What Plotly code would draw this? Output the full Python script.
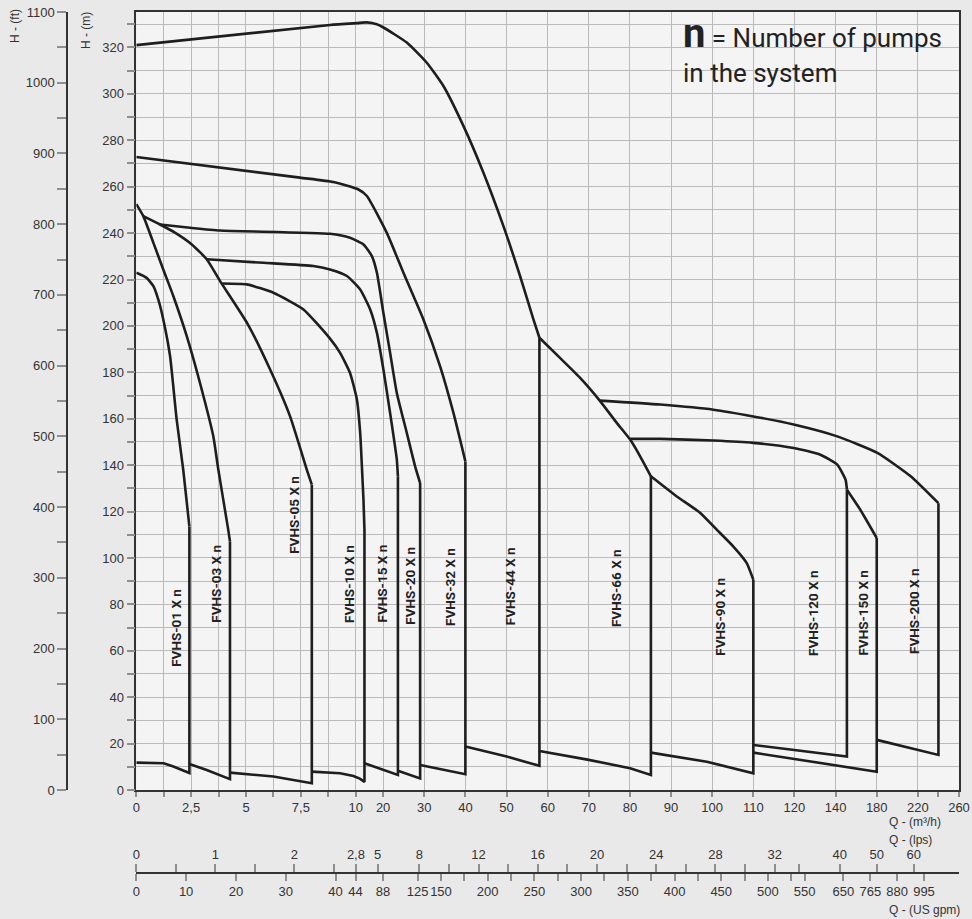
import numpy as np
import plotly.graph_objects as go

# ---------------- axis scale of the original (piecewise m3/h scale) ----------------
Q_ANCH = [0, 10, 20, 120, 140, 260]
U_ANCH = [0, 8, 9, 24, 25.5, 30]


def qpos(q):
    return np.interp(np.asarray(q, dtype=float), Q_ANCH, U_ANCH)


# ---------------- tick labels ----------------
X_TICKS = [0, 1.25, 2.5, 3.75, 5, 6.25, 7.5, 8.75, 10, 20, 30, 40, 50, 60, 70, 80, 90,
           100, 110, 120, 140, 180, 220, 260]
X_TICK_TEXT = ["0", "", "2,5", "", "5", "", "7,5", "", "10", "20", "30", "40", "50", "60",
               "70", "80", "90", "100", "110", "120", "140", "180", "220", "260"]
X_MINOR = [240]

LPS_TICKS = [0, 0.5, 1, 1.5, 2, 2.5, 2.8, 5, 8, 10, 12, 14, 16, 18, 20, 22, 24, 26, 28,
             30, 32, 34, 40, 50, 60]
LPS_TEXT = ["0", "", "1", "", "2", "", "2,8", "5", "8", "", "12", "", "16", "", "20", "",
            "24", "", "28", "", "32", "", "40", "50", "60"]
LPS_TO_M3H = 3.6

GPM_TICKS = [0, 10, 20, 30, 40, 44, 88, 125, 150, 175, 200, 225, 250, 275, 300, 325, 350,
             375, 400, 425, 450, 475, 500, 525, 550, 650, 765, 880, 995]
GPM_TEXT = ["0", "10", "20", "30", "40", "44", "88", "125", "150", "", "200", "", "250", "",
            "300", "", "350", "", "400", "", "450", "", "500", "", "550", "650", "765", "880", "995"]
GPM_TO_M3H = 0.2271

H_MAX_FT = 1100
FT_TO_M = 0.3048

# ---------------- pump family curves (Q in m3/h, H in m) ----------------
FVHS01_TOP_Q = [0, 0.47, 0.78, 1.0, 1.23, 1.54, 1.84, 2.14, 2.42]
FVHS01_TOP_H = [222.9, 220.7, 217.1, 211.4, 202.8, 186.9, 159.6, 138.0, 113.5]
FVHS01_BOT_Q = [0, 1.25, 1.69, 2.42]
FVHS01_BOT_H = [11.8, 11.5, 10.1, 7.3]

FVHS03_TOP_Q = [0, 0.32, 0.78, 1.23, 1.69, 2.30, 2.90, 3.51, 3.74, 4.19, 4.27]
FVHS03_TOP_H = [252.5, 247.3, 235.8, 224.3, 212.8, 195.6, 175.5, 152.4, 138.0, 112.2, 107.1]
FVHS03_BOT_Q = [2.42, 3.21, 4.27]
FVHS03_BOT_H = [11.2, 8.6, 4.7]

FVHS05_TOP_Q = [0.32, 1.08, 1.76, 2.53, 3.21, 3.82, 5.09, 6.10, 7.01, 7.77, 8.0]
FVHS05_TOP_H = [247.3, 243.7, 240.2, 235.1, 228.7, 219.3, 200.6, 181.2, 161.0, 138.1, 131.6]
FVHS05_BOT_Q = [4.27, 6.25, 8.0]
FVHS05_BOT_H = [7.5, 5.8, 2.9]

FVHS10_TOP_Q = [3.92, 5.03, 6.25, 7.62, 8.83, 9.29, 9.74, 10.44, 11.64, 12.26, 12.84, 13.2]
FVHS10_TOP_H = [218.3, 217.9, 214.3, 207.1, 194.5, 188.4, 179.8, 168.3, 153.9, 139.5, 125.1, 112.0]
FVHS10_BOT_Q = [8.0, 8.83, 9.29, 9.9, 11.5, 13.2]
FVHS10_BOT_H = [7.9, 7.4, 7.2, 6.0, 4.9, 3.5]

FVHS15_TOP_Q = [3.21, 5.79, 8.07, 8.83, 9.60, 11.64, 15.29, 17.74, 20.07, 21.70, 23.33, 23.6]
FVHS15_TOP_H = [228.7, 227.2, 225.8, 224.3, 221.5, 215.7, 207.1, 197.0, 181.2, 162.5, 142.4, 135.2]
FVHS15_BOT_Q = [13.2, 23.6]
FVHS15_BOT_H = [11.5, 6.5]

FVHS20_TOP_Q = [1.08, 2.45, 3.82, 8.83, 9.74, 12.84, 15.91, 17.74, 20.07, 21.70, 23.33, 25.76, 27.78, 29.0]
FVHS20_TOP_H = [243.7, 242.3, 241.1, 239.7, 238.0, 235.1, 230.1, 222.9, 205.6, 188.4, 171.1, 153.9, 139.5, 132.3]
FVHS20_BOT_Q = [23.6, 29.0]
FVHS20_BOT_H = [8.3, 5.0]

FVHS32_TOP_Q = [0, 7.46, 8.98, 11.02, 14.08, 20.90, 24.94, 29.80, 33.86, 37.10, 40.0]
FVHS32_TOP_H = [272.8, 263.9, 262.0, 258.8, 256.0, 240.1, 222.9, 202.8, 182.6, 162.5, 141.6]
FVHS32_BOT_Q = [29.0, 40.0]
FVHS32_BOT_H = [10.8, 6.8]

FVHS44_TOP_Q = [0, 8.83, 10.44, 14.08, 17.7, 20.07, 25.76, 30.62, 34.66, 39.52, 44.39, 49.25, 53.31, 56.54, 58.0]
FVHS44_TOP_H = [321.0, 329.7, 330.5, 330.8, 330.0, 328.6, 322.1, 313.4, 303.4, 286.2, 266.0, 243.0, 221.4, 202.8, 194.9]
FVHS44_BOT_Q = [40.0, 50.05, 58.0]
FVHS44_BOT_H = [18.7, 14.4, 10.4]

FVHS66_TOP_Q = [58.0, 63.0, 67.9, 72.76, 76.8, 80.05, 82.48, 85.1]
FVHS66_TOP_H = [194.9, 186.2, 177.6, 167.6, 158.2, 151.0, 143.8, 135.2]
FVHS66_BOT_Q = [58.0, 69.36, 80.04, 85.1]
FVHS66_BOT_H = [16.8, 13.2, 9.4, 6.5]

FVHS90_TOP_Q = [85.1, 91.4, 97.1, 101.1, 105.1, 108.4, 110.0]
FVHS90_TOP_H = [135.2, 126.5, 119.4, 112.2, 105.0, 97.8, 90.6]
FVHS90_BOT_Q = [85.1, 98.7, 110.0]
FVHS90_BOT_H = [16.1, 12.2, 7.2]

FVHS120_TOP_Q = [80.05, 87.35, 100.3, 110.0, 119.8, 132.6, 141.6, 149.7, 151.0]
FVHS120_TOP_H = [151.3, 151.3, 150.6, 149.6, 147.4, 144.5, 140.2, 133.7, 129.4]
FVHS120_BOT_Q = [110.0, 151.0]
FVHS120_BOT_H = [19.4, 14.4]

FVHS150_TOP_Q = [151.0, 164.0, 180.0]
FVHS150_TOP_H = [129.4, 120.8, 108.6]
FVHS150_BOT_Q = [110.0, 180.0]
FVHS150_BOT_H = [16.1, 7.9]

FVHS200_TOP_Q = [72.76, 87.35, 100.3, 110.0, 119.8, 141.6, 180.6, 213.0, 240.0]
FVHS200_TOP_H = [167.8, 166.1, 163.9, 161.0, 157.5, 152.4, 145.3, 135.2, 123.6]
FVHS200_BOT_Q = [180.0, 240.0]
FVHS200_BOT_H = [21.6, 15.1]

FAMILIES = [
    ("FVHS-01 X n", FVHS01_TOP_Q, FVHS01_TOP_H, FVHS01_BOT_Q, FVHS01_BOT_H),
    ("FVHS-03 X n", FVHS03_TOP_Q, FVHS03_TOP_H, FVHS03_BOT_Q, FVHS03_BOT_H),
    ("FVHS-05 X n", FVHS05_TOP_Q, FVHS05_TOP_H, FVHS05_BOT_Q, FVHS05_BOT_H),
    ("FVHS-10 X n", FVHS10_TOP_Q, FVHS10_TOP_H, FVHS10_BOT_Q, FVHS10_BOT_H),
    ("FVHS-15 X n", FVHS15_TOP_Q, FVHS15_TOP_H, FVHS15_BOT_Q, FVHS15_BOT_H),
    ("FVHS-20 X n", FVHS20_TOP_Q, FVHS20_TOP_H, FVHS20_BOT_Q, FVHS20_BOT_H),
    ("FVHS-32 X n", FVHS32_TOP_Q, FVHS32_TOP_H, FVHS32_BOT_Q, FVHS32_BOT_H),
    ("FVHS-44 X n", FVHS44_TOP_Q, FVHS44_TOP_H, FVHS44_BOT_Q, FVHS44_BOT_H),
    ("FVHS-66 X n", FVHS66_TOP_Q, FVHS66_TOP_H, FVHS66_BOT_Q, FVHS66_BOT_H),
    ("FVHS-90 X n", FVHS90_TOP_Q, FVHS90_TOP_H, FVHS90_BOT_Q, FVHS90_BOT_H),
    ("FVHS-120 X n", FVHS120_TOP_Q, FVHS120_TOP_H, FVHS120_BOT_Q, FVHS120_BOT_H),
    ("FVHS-150 X n", FVHS150_TOP_Q, FVHS150_TOP_H, FVHS150_BOT_Q, FVHS150_BOT_H),
    ("FVHS-200 X n", FVHS200_TOP_Q, FVHS200_TOP_H, FVHS200_BOT_Q, FVHS200_BOT_H),
]

# label anchor points (Q m3/h, H m)
LABEL_Q = [1.81, 3.63, 7.19, 9.66, 19.5, 26.5, 36.3, 50.7, 76.6, 101.9, 128.9, 167.0, 215.7]
LABEL_H = [69.9, 88.9, 118.6, 88.9, 88.9, 88.0, 87.6, 88.0, 87.0, 74.7, 76.2, 76.2, 76.9]

# ---------------- styling / page geometry ----------------
PAGE_BG = "#e9e9e9"
PLOT_BG = "#f4f4f4"
GRID = "#bababa"
AXIS = "#333333"
TICKC = "#8e8e8e"
CURVE = "#1e1e1e"
TICK_FONT = dict(family="Liberation Sans, Arial, sans-serif", size=13, color="#333333")

W, Hh = 972, 919
ML, MR, MT, MB = 67, 13, 12, 46
PW = W - ML - MR
PH = Hh - MT - MB
PLOT_LEFT_PX = 136.3
PLOT_BOTTOM_PX = 790
X_DOM0 = (PLOT_LEFT_PX - ML) / PW
Y_DOM0 = (Hh - MB - PLOT_BOTTOM_PX) / PH
H_MAX_M = H_MAX_FT * FT_TO_M


def sx(px):
    return (px - ML) / PW


def sy(py):
    return (Hh - MB - py) / PH


fig = go.Figure()

for name, tq, th, bq, bh in FAMILIES:
    fig.add_trace(go.Scatter(x=qpos(tq), y=th, mode="lines",
                             line=dict(color=CURVE, width=2.6, shape="spline", smoothing=0.5),
                             showlegend=False, hoverinfo="skip"))
    vx = [tq[-1]] + list(bq[::-1])
    vy = [th[-1]] + list(bh[::-1])
    fig.add_trace(go.Scatter(x=qpos(vx), y=vy, mode="lines",
                             line=dict(color=CURVE, width=2.6),
                             showlegend=False, hoverinfo="skip"))

# invisible helpers so the extra axes are drawn
fig.add_trace(go.Scatter(x=[0], y=[0], xaxis="x2", yaxis="y", mode="markers",
                         marker=dict(opacity=0), showlegend=False, hoverinfo="skip"))
fig.add_trace(go.Scatter(x=[0], y=[0], xaxis="x3", yaxis="y", mode="markers",
                         marker=dict(opacity=0), showlegend=False, hoverinfo="skip"))
fig.add_trace(go.Scatter(x=[0], y=[0], xaxis="x", yaxis="y2", mode="markers",
                         marker=dict(opacity=0), showlegend=False, hoverinfo="skip"))

annotations = []
for (name, *_), lq, lh in zip(FAMILIES, LABEL_Q, LABEL_H):
    annotations.append(dict(x=float(qpos(lq)), y=lh, xref="x", yref="y", text="<b>%s</b>" % name,
                            textangle=-90, showarrow=False,
                            font=dict(family="Roboto, sans-serif", size=13.5, color="#222222")))

NOTE_Q = 92.4
annotations += [
    dict(x=float(qpos(NOTE_Q)), y=326.0, xref="x", yref="y", xanchor="left", yanchor="middle",
         text="<span style='font-size:40px'><b>n</b></span> = Number of pumps", showarrow=False,
         font=dict(family="Roboto, sans-serif", size=26, color="#222222")),
    dict(x=float(qpos(NOTE_Q)), y=309.0, xref="x", yref="y", xanchor="left", yanchor="middle",
         text="in the system", showarrow=False,
         font=dict(family="Roboto, sans-serif", size=26, color="#222222")),
    dict(x=sx(887), y=sy(822), xref="paper", yref="paper", xanchor="left",
         yanchor="middle", text="Q - (m³/h)", showarrow=False, font=dict(TICK_FONT, size=12)),
    dict(x=sx(887), y=sy(840), xref="paper", yref="paper", xanchor="left",
         yanchor="middle", text="Q - (lps)", showarrow=False, font=dict(TICK_FONT, size=12)),
    dict(x=sx(887), y=sy(910), xref="paper", yref="paper", xanchor="left",
         yanchor="middle", text="Q - (US gpm)", showarrow=False, font=dict(TICK_FONT, size=12)),
    dict(x=sx(15), y=sy(26), xref="paper", yref="paper", xanchor="center",
         yanchor="middle", text="H - (ft)", textangle=-90, showarrow=False, font=dict(TICK_FONT, size=12)),
    dict(x=sx(86), y=sy(31), xref="paper", yref="paper", xanchor="center",
         yanchor="middle", text="H - (m)", textangle=-90, showarrow=False, font=dict(TICK_FONT, size=12)),
]

fig.update_layout(
    width=W, height=Hh,
    margin=dict(l=ML, r=MR, t=MT, b=MB, pad=0, autoexpand=False),
    paper_bgcolor=PAGE_BG, plot_bgcolor=PLOT_BG,
    showlegend=False,
    xaxis=dict(domain=[X_DOM0, 1], range=[0, 30], tickmode="array", automargin=False,
               tickvals=list(qpos(X_TICKS)), ticktext=X_TICK_TEXT, tickangle=0,
               ticklabeloverflow="allow",
               ticks="outside", ticklen=5, tickcolor=TICKC, tickwidth=1.5,
               showgrid=True, gridcolor=GRID, gridwidth=1.2, zeroline=False,
               showline=True, linecolor=AXIS, linewidth=1.5, mirror=True,
               tickfont=TICK_FONT,
               minor=dict(tickmode="array", tickvals=list(qpos(X_MINOR)), ticks="outside",
                          ticklen=5, tickcolor=TICKC, tickwidth=1.5, showgrid=False)),
    yaxis=dict(domain=[Y_DOM0, 1], range=[0, H_MAX_M], tick0=0, dtick=20, automargin=False,
               ticklabeloverflow="allow",
               ticks="outside", ticklen=8, tickcolor=TICKC, tickwidth=1.5,
               showgrid=True, gridcolor=GRID, gridwidth=1.2, zeroline=False,
               showline=True, linecolor=AXIS, linewidth=1.5, mirror=True,
               tickfont=TICK_FONT,
               minor=dict(dtick=10, tick0=0, ticks="outside", ticklen=8, tickcolor=TICKC,
                          tickwidth=1.5, showgrid=True, gridcolor=GRID, gridwidth=1.2)),
    yaxis2=dict(overlaying="y", anchor="free", position=0, side="left", automargin=False,
                ticklabeloverflow="allow",
                range=[0, H_MAX_FT], tick0=0, dtick=100, ticks="outside", ticklen=9,
                tickcolor=TICKC, tickwidth=1.5, showgrid=False, zeroline=False,
                showline=True, linecolor=AXIS, linewidth=1.5, tickfont=TICK_FONT,
                minor=dict(dtick=50, tick0=0, ticks="outside", ticklen=9, tickcolor=TICKC,
                           tickwidth=1.5, showgrid=False)),
    xaxis2=dict(overlaying="x", anchor="free", position=0, side="top", range=[0, 30],
                automargin=False, tickangle=0, ticklabeloverflow="allow",
                tickmode="array", tickvals=list(qpos(np.array(LPS_TICKS) * LPS_TO_M3H)),
                ticktext=LPS_TEXT, ticks="outside", ticklen=8, tickcolor=TICKC, tickwidth=1.5,
                showgrid=False, zeroline=False, showline=True, linecolor=AXIS, linewidth=1.5,
                tickfont=TICK_FONT),
    xaxis3=dict(overlaying="x", anchor="free", position=0, side="bottom", range=[0, 30],
                automargin=False, tickangle=0, ticklabeloverflow="allow",
                tickmode="array", tickvals=list(qpos(np.array(GPM_TICKS) * GPM_TO_M3H)),
                ticktext=GPM_TEXT, ticks="outside", ticklen=7, tickcolor=TICKC, tickwidth=1.5,
                showgrid=False, zeroline=False, showline=True, linecolor=AXIS, linewidth=1.5,
                tickfont=TICK_FONT),
    annotations=annotations,
)

# remove the browser's default 8px page margin so the figure fills the window exactly
fig.write_html("out.html", config={"displayModeBar": False},
               post_script="document.body.style.margin='0';document.body.style.overflow='hidden';")
